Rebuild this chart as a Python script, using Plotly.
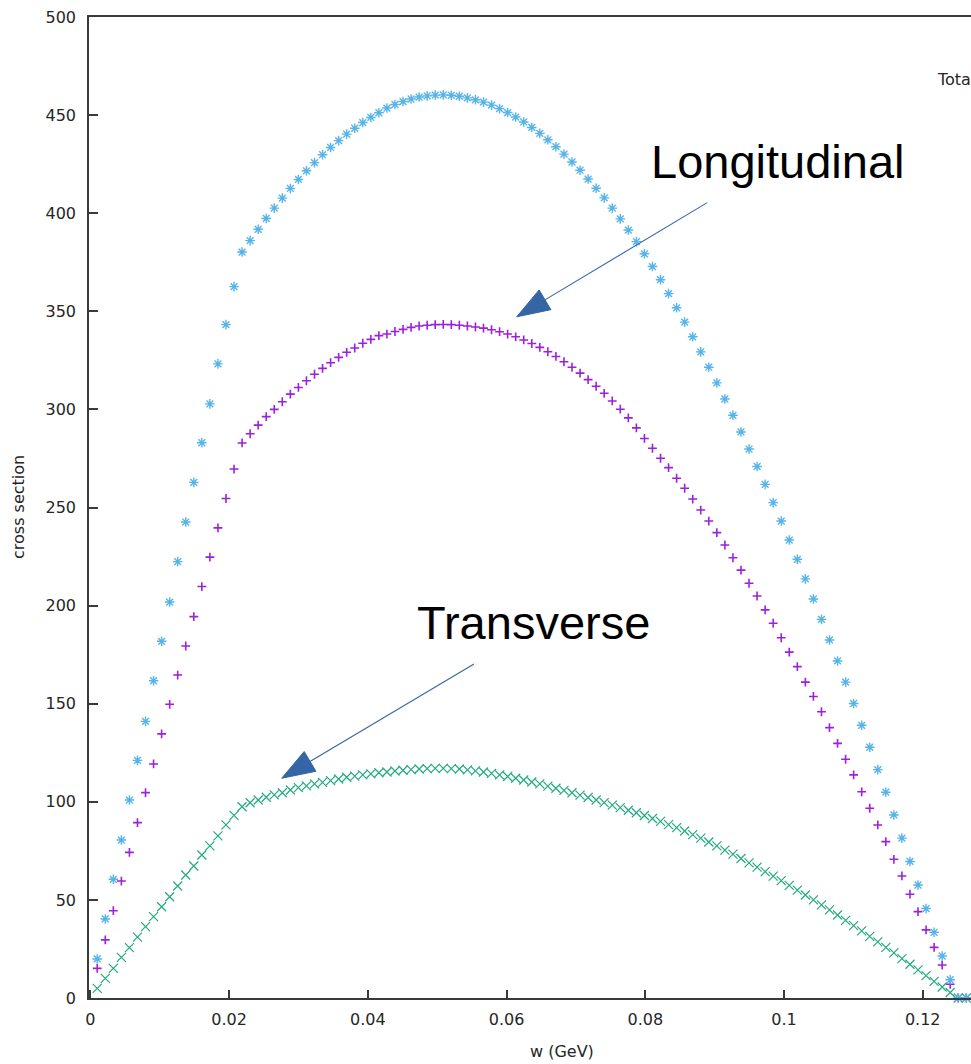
import numpy as np
import plotly.graph_objects as go

# ---------------- data ----------------
X0 = 0.001      # first energy-transfer point (GeV)
DX = 0.00116    # grid spacing (GeV)

TOTAL = [19.9, 40.3, 60.5, 80.5, 100.9, 121.1, 141.0, 161.7, 181.8, 201.8,
         222.4, 242.6, 262.8, 283.0, 302.8, 323.2, 343.2, 362.6, 380.2,
         386.0, 391.8, 397.3, 402.6, 407.7, 412.6, 417.2, 421.6, 425.8, 429.8,
         433.5, 437.0, 440.3, 443.3, 446.2, 448.8, 451.2,
         453.6, 455.4, 456.9, 458.2, 459.2, 459.8, 460.2, 460.3, 460.1, 459.6,
         458.8, 457.8, 456.6, 455.1, 453.3, 451.3, 449.0, 446.5, 443.7, 440.7,
         437.4, 433.9, 430.1, 426.1,
         421.9, 417.4, 412.7, 407.8, 402.6, 397.1, 391.4, 385.5, 379.3, 372.8, 366.1,
         359.0, 351.8, 344.5, 337.0, 329.3, 321.5, 313.5, 305.3, 297.0, 288.5,
         279.8, 270.9, 261.8, 252.5, 243.1, 233.4, 223.6, 213.6, 203.4, 193.0,
         182.5, 171.8, 161.0, 150.1, 139.0, 127.8, 116.4, 104.9, 93.3, 81.5,
         69.6, 57.6, 45.6, 33.5, 21.4, 9.3, 0.0, 0.0]

LONGITUDINAL = [15.1, 29.6, 44.5, 59.6, 74.2, 89.4, 104.7, 119.3, 134.6, 149.7,
                164.6, 179.4, 194.4, 209.7, 224.7, 239.6, 254.6, 269.6, 282.9,
                287.6, 292.0, 296.3, 300.0, 303.9, 307.8, 311.2, 314.6, 317.9, 320.9,
                323.8, 326.5, 329.1, 331.3, 333.7, 335.7, 337.6,
                338.4, 339.7, 340.8, 341.8, 342.5, 342.9, 343.2, 343.3, 343.2, 342.9,
                342.5, 342.0, 341.4, 340.6, 339.6, 338.4, 337.0, 335.4, 333.6, 331.6,
                329.4, 327.0, 324.3, 321.5, 318.5, 315.2, 311.8, 308.2, 304.3, 300.1,
                295.7,
                290.6, 285.2, 280.2, 275.1, 270.3, 264.9, 259.8, 254.3, 248.7, 243.1,
                237.2, 230.9, 224.4, 218.1, 211.4, 204.9, 197.8, 191.0, 183.6, 176.3,
                168.9, 161.0, 153.7, 145.9, 137.8, 129.8, 121.7, 113.7, 105.1, 96.7,
                88.2, 79.7, 70.7, 62.2, 52.9, 44.0, 34.7, 25.8, 16.8, 7.0, 0.0, 0.0]

TRANSVERSE = [4.9, 10.0, 15.1, 20.7, 25.7, 31.0, 36.4, 41.5, 46.5, 51.6,
              57.1, 62.7, 67.3, 72.9, 77.5, 82.6, 88.2, 93.1, 97.5,
              99.5, 100.9, 102.3, 103.5, 104.6, 106.0, 107.2, 108.1, 109.1, 109.9,
              110.8, 111.6, 112.5, 113.1, 113.7, 114.2, 114.8,
              115.2, 115.7, 116.1, 116.4, 116.7, 116.9, 117.0, 117.0, 116.9, 116.7,
              116.3, 115.8, 115.2, 114.5, 113.7, 112.9, 112.0, 111.1, 110.1, 109.1,
              108.0, 106.9, 105.8, 104.6, 103.4, 102.2, 100.9, 99.6, 98.3, 97.0, 95.7,
              94.4, 93.0, 91.5, 90.0, 88.4, 86.8, 85.1, 83.3, 81.5, 79.5,
              77.5, 75.4, 73.3, 71.1, 68.9, 66.7, 64.4, 62.1, 59.8, 57.4,
              55.0, 52.5, 50.0, 47.5, 44.9, 42.3, 39.6, 36.9, 34.2, 31.4,
              28.6, 25.8, 23.0, 20.1, 17.2, 14.3, 11.4, 8.5, 5.6, 2.8, 0.0, 0.0]

X_TICKS = [0, 0.02, 0.04, 0.06, 0.08, 0.10, 0.12]
X_TICK_TEXT = ["0", "0.02", "0.04", "0.06", "0.08", "0.1", "0.12"]
Y_TICKS = [0, 50, 100, 150, 200, 250, 300, 350, 400, 450, 500]


def grid(values):
    return [round(X0 + DX * i, 6) for i in range(len(values))]


# ---------------- layout constants ----------------
W, H = 971, 1064
ML, MR, MT, MB = 89, 0, 17, 66
PW, PH = W - ML - MR, H - MT - MB
X_RANGE = [-0.000187, -0.000187 + PW / 6937.0]
Y_RANGE = [0, 500]
SX = PW / (X_RANGE[1] - X_RANGE[0])
SY = PH / (Y_RANGE[1] - Y_RANGE[0])

PURPLE = "#9b22da"
GREEN = "#22aa80"
BLUE = "#56b4e9"
ARROW = "#3465a4"
AXIS = "#3a3a3a"
TXT = "#262626"

fig = go.Figure()

fig.add_trace(go.Scatter(
    x=grid(LONGITUDINAL), y=LONGITUDINAL, mode="markers", name="Longitudinal",
    cliponaxis=False,
    marker=dict(symbol="cross-thin", size=6.3, color=PURPLE,
                line=dict(color=PURPLE, width=1.6))))
fig.add_trace(go.Scatter(
    x=grid(TRANSVERSE), y=TRANSVERSE, mode="markers", name="Transverse",
    cliponaxis=False,
    marker=dict(symbol="x-thin", size=9, color=GREEN,
                line=dict(color=GREEN, width=1.2))))
fig.add_trace(go.Scatter(
    x=grid(TOTAL), y=TOTAL, mode="markers", name="Total",
    cliponaxis=False,
    marker=dict(symbol="asterisk", size=8, color=BLUE,
                line=dict(color=BLUE, width=1.4))))


def to_px(x, y):
    return (x - X_RANGE[0]) * SX, (y - Y_RANGE[0]) * SY


def to_data(px, py):
    return px / SX + X_RANGE[0], py / SY + Y_RANGE[0]


def add_arrow(tail, tip, head_len=33.0, head_w=23.0):
    tx, ty = to_px(*tail)
    hx, hy = to_px(*tip)
    dx, dy = hx - tx, hy - ty
    n = (dx * dx + dy * dy) ** 0.5
    ux, uy = dx / n, dy / n
    bx, by = hx - ux * head_len, hy - uy * head_len
    nx, ny = -uy, ux
    c1 = to_data(bx + nx * head_w / 2, by + ny * head_w / 2)
    c2 = to_data(bx - nx * head_w / 2, by - ny * head_w / 2)
    base = to_data(bx + ux * 3, by + uy * 3)
    fig.add_shape(type="line", xref="x", yref="y",
                  x0=tail[0], y0=tail[1], x1=base[0], y1=base[1],
                  line=dict(color=ARROW, width=1.1))
    path = "M {:.6f},{:.3f} L {:.6f},{:.3f} L {:.6f},{:.3f} Z".format(
        tip[0], tip[1], c1[0], c1[1], c2[0], c2[1])
    fig.add_shape(type="path", xref="x", yref="y", path=path,
                  fillcolor=ARROW, line=dict(color=ARROW, width=1))


add_arrow((0.08894, 405.4), (0.06147, 347.2))
add_arrow((0.05531, 170.2), (0.02759, 112.0))

big = dict(family="Liberation Sans, Arial, sans-serif", size=47, color="#000000")
fig.add_annotation(x=0.09913, y=426.5, xref="x", yref="y", text="Longitudinal",
                   showarrow=False, font=big, xanchor="center", yanchor="middle")
fig.add_annotation(x=0.06382, y=191.6, xref="x", yref="y", text="Transverse",
                   showarrow=False, font=big, xanchor="center", yanchor="middle")

small = dict(family="DejaVu Sans, sans-serif", size=16, color=TXT)
fig.add_annotation(x=(18 - ML) / PW, y=(H - MB - 507) / PH, xref="paper", yref="paper",
                   text="cross section", textangle=-90, showarrow=False, font=small,
                   xanchor="center", yanchor="middle")
fig.add_annotation(x=(562 - ML) / PW, y=(H - MB - 1051) / PH, xref="paper", yref="paper",
                   text="w (GeV)", showarrow=False, font=small,
                   xanchor="center", yanchor="middle")
# key, cut off by the right edge of the picture
fig.add_annotation(x=(935 - ML) / PW, y=(H - MB - 80) / PH, xref="paper", yref="paper",
                   text="Total", showarrow=False, font=small,
                   xanchor="left", yanchor="middle")

tickfont = dict(family="DejaVu Sans, sans-serif", size=16, color=TXT)
fig.update_xaxes(range=X_RANGE, tickvals=X_TICKS, ticktext=X_TICK_TEXT,
                 ticks="inside", ticklen=8, tickwidth=1.5, tickcolor=AXIS,
                 showline=True, linecolor=AXIS, linewidth=1.6, mirror=True,
                 showgrid=False, zeroline=False, tickfont=tickfont,
                 ticklabelstandoff=6)
fig.update_yaxes(range=Y_RANGE, tickvals=Y_TICKS,
                 ticks="inside", ticklen=9, tickwidth=1.5, tickcolor=AXIS,
                 showline=True, linecolor=AXIS, linewidth=1.6, mirror=False,
                 showgrid=False, zeroline=False, tickfont=tickfont,
                 ticklabelstandoff=8)

fig.update_layout(width=W, height=H, margin=dict(l=ML, r=MR, t=MT, b=MB),
                  paper_bgcolor="white", plot_bgcolor="white", showlegend=False)

fig.write_html("out.html",
               config={"displayModeBar": False},
               post_script="document.body.style.margin='0';"
                           "document.body.style.overflow='hidden';")
